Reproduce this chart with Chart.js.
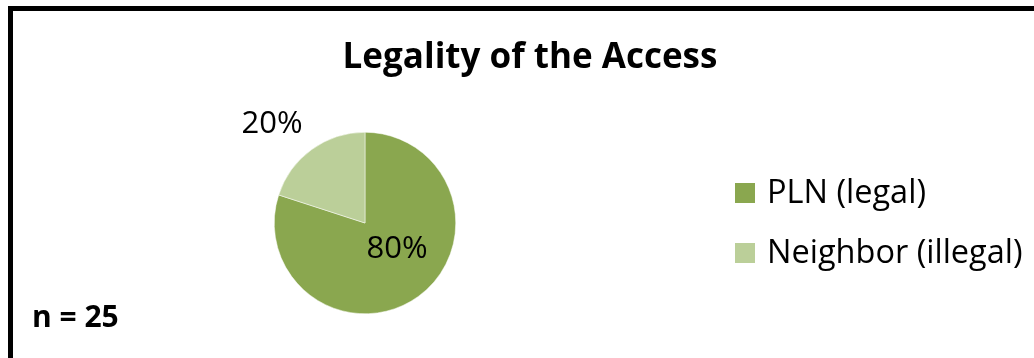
<!DOCTYPE html>
<html>
<head>
<meta charset="utf-8">
<script src="https://cdn.jsdelivr.net/npm/chart.js@4/dist/chart.umd.min.js"></script>
<style>
  html, body { margin: 0; padding: 0; background: #fff; overflow: hidden; }
  #wrap { position: relative; width: 1034px; height: 358px; }
  #frame {
    position: absolute; left: 8px; top: 6px; width: 1100px; height: 400px;
    border-left: 5px solid #000; border-top: 5px solid #000;
  }
  canvas { position: absolute; left: 0; top: 0; }
</style>
</head>
<body>
<div id="wrap">
  <div id="frame"></div>
  <canvas id="pie" width="1034" height="358"></canvas>
</div>
<script>
const categories = ['PLN (legal)', 'Neighbor (illegal)'];
const shares = [80, 20];
const sliceColors = ['#8aa74f', '#bbcf99'];
const chartTitle = 'Legality of the Access';
const sampleNote = 'n = 25';

const FONT = '"Open Sans", "Liberation Sans", sans-serif';

// labels, title, legend and note drawn on top of the pie
const decor = {
  id: 'decor',
  afterDraw(chart) {
    const ctx = chart.ctx;
    const arcs = chart.getDatasetMeta(0).data;
    const total = shares.reduce((a, b) => a + b, 0);
    ctx.save();
    ctx.fillStyle = '#000';
    ctx.textAlign = 'center';
    ctx.textBaseline = 'middle';

    ctx.font = 'bold 35px ' + FONT;
    ctx.fillText(chartTitle, 530, 58);

    // percent labels placed relative to each arc's centre
    const offsets = [{ dx: 32, dy: 26 }, { dx: -93, dy: -99 }];
    ctx.font = '31px ' + FONT;
    arcs.forEach((arc, i) => {
      const pct = Math.round(shares[i] / total * 100) + '%';
      ctx.fillText(pct, arc.x + offsets[i].dx, arc.y + offsets[i].dy);
    });

    // legend
    ctx.textAlign = 'left';
    ctx.font = '32.5px ' + FONT;
    categories.forEach((name, i) => {
      const y = 193 + i * 60;
      ctx.fillStyle = sliceColors[i];
      ctx.fillRect(735, y - 10, 20, 20);
      ctx.fillStyle = '#000';
      ctx.fillText(name, 767, y + 1);
    });

    ctx.font = 'bold 30px ' + FONT;
    ctx.fillText(sampleNote, 32, 318);
    ctx.restore();
  }
};

new Chart(document.getElementById('pie'), {
  type: 'pie',
  data: {
    labels: categories,
    datasets: [{
      data: shares,
      backgroundColor: sliceColors,
      borderColor: '#fff',
      borderWidth: 0.5
    }]
  },
  options: {
    responsive: false,
    animation: false,
    events: [],
    layout: { padding: { left: 274, right: 578, top: 132, bottom: 44 } },
    plugins: {
      legend: { display: false },
      title: { display: false },
      tooltip: { enabled: false }
    }
  },
  plugins: [decor]
});
</script>
</body>
</html>
